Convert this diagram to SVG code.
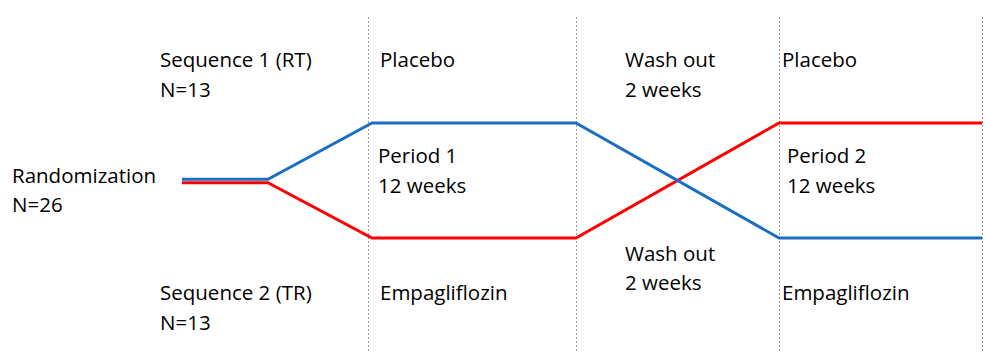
<svg xmlns="http://www.w3.org/2000/svg" width="985" height="352" viewBox="0 0 985 352">
<style>
text{font-family:"Open Sans","Liberation Sans",sans-serif;font-size:20.5px;fill:#000}
.div{stroke:#999;stroke-width:1;stroke-dasharray:2 2;fill:none}
.blue{stroke:#1a6fc0;stroke-width:3;fill:none}
.red{stroke:#f00;stroke-width:3;fill:none}
</style>
<rect width="985" height="352" fill="#fff"/>
<g id="dividers">
<line class="div" x1="368.5" y1="17" x2="368.5" y2="352"/>
<line class="div" x1="576.5" y1="17" x2="576.5" y2="352"/>
<line class="div" x1="779.5" y1="17" x2="779.5" y2="352"/>
<line class="div" x1="982.5" y1="17" x2="982.5" y2="352"/>
</g>
<g id="connectors">
<polyline class="red" points="182,182.7 268,182.7 372,238 576,238 779,123 982,123"/>
<polyline class="blue" points="182,179.3 268,179.3 372,123 576,123 779,238 982,238"/>
</g>
<g id="randomization"><text x="12" y="183">Randomization</text><text x="12" y="212">N=26</text></g>
<g id="seq1"><text x="160" y="67">Sequence 1 (RT)</text><text x="160" y="97">N=13</text></g>
<g id="seq2"><text x="160" y="300">Sequence 2 (TR)</text><text x="160" y="330">N=13</text></g>
<g id="placebo1"><text x="380" y="67">Placebo</text></g>
<g id="period1"><text x="378" y="163">Period 1</text><text x="378" y="193">12 weeks</text></g>
<g id="empa1"><text x="380" y="300">Empagliflozin</text></g>
<g id="washout1"><text x="625" y="67">Wash out</text><text x="625" y="97">2 weeks</text></g>
<g id="washout2"><text x="625" y="261">Wash out</text><text x="625" y="290">2 weeks</text></g>
<g id="placebo2"><text x="782" y="67">Placebo</text></g>
<g id="period2"><text x="787" y="163">Period 2</text><text x="787" y="193">12 weeks</text></g>
<g id="empa2"><text x="782" y="300">Empagliflozin</text></g>
</svg>
